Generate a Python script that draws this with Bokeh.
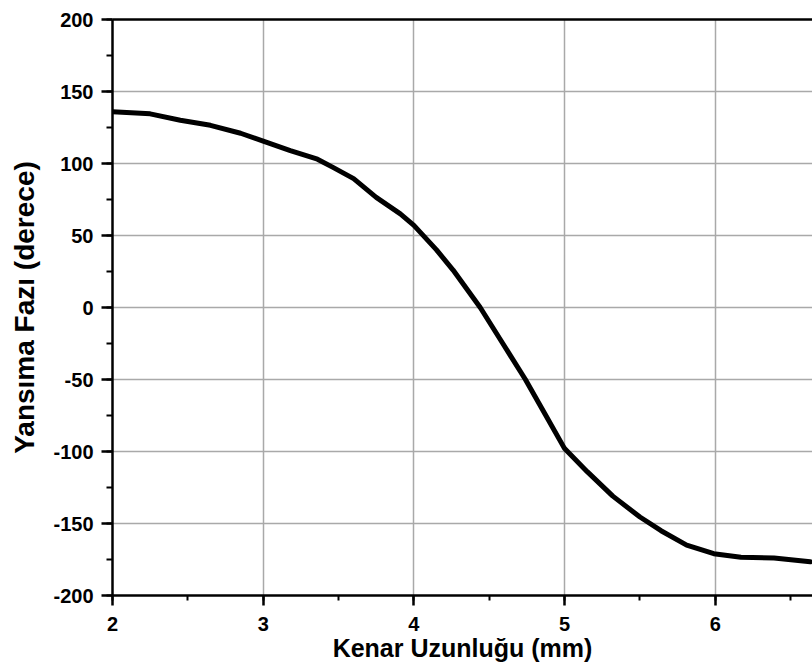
from bokeh.plotting import figure
from bokeh.models import Range1d, SingleIntervalTicker, LinearAxis, FixedTicker, PrintfTickFormatter
from bokeh.embed import file_html
from bokeh.resources import INLINE

# Data
edge_length_mm = [2.0, 2.25, 2.45, 2.65, 2.85, 3.0, 3.18, 3.36, 3.46, 3.60, 3.75, 3.91,
                  4.0, 4.15, 4.26, 4.44, 4.59, 4.74, 4.87, 5.0, 5.15, 5.32, 5.50,
                  5.64, 5.81, 5.99, 6.17, 6.39, 6.63]
reflection_phase_deg = [136, 134.5, 130, 126.5, 121, 115.5, 109, 103, 97.5, 89.5, 76.5, 65,
                        57, 40, 26, 0, -25, -50, -74, -98, -114, -131, -145.5,
                        -155, -165, -171, -173.5, -174, -176.5]

x_label = "Kenar Uzunluğu (mm)"
y_label = "Yansıma Fazı (derece)"

FONT = "Liberation Sans"

p = figure(width=812, height=671, output_backend="svg", toolbar_location=None,
           x_range=Range1d(2, 6.645), y_range=Range1d(-200, 200),
           min_border_left=112, min_border_right=0, min_border_top=19, min_border_bottom=76)
p.outline_line_color = None
p.background_fill_color = "white"
p.border_fill_color = "white"

p.line(edge_length_mm, reflection_phase_deg, line_color="black", line_width=5,
       line_join="round", line_cap="round")

p.xaxis.ticker = SingleIntervalTicker(interval=1, num_minor_ticks=2)
p.yaxis.ticker = SingleIntervalTicker(interval=50, num_minor_ticks=2)
p.xaxis.formatter = PrintfTickFormatter(format="%d")
p.yaxis.formatter = PrintfTickFormatter(format="%d")

for ax in (p.xaxis[0], p.yaxis[0]):
    ax.axis_line_color = "black"
    ax.axis_line_width = 2.5
    ax.major_tick_line_color = "black"
    ax.major_tick_line_width = 2.5
    ax.minor_tick_line_color = "black"
    ax.minor_tick_line_width = 2
    ax.major_tick_in = 0
    ax.minor_tick_in = 0
    ax.major_label_text_font = FONT
    ax.major_label_text_font_style = "bold"
    ax.major_label_text_font_size = "20px"
    ax.major_label_text_color = "black"
    ax.axis_label_text_font = FONT
    ax.axis_label_text_font_style = "bold"
    ax.axis_label_text_color = "black"

p.xaxis.axis_label = x_label
p.yaxis.axis_label = y_label
p.xaxis.axis_label_text_font_size = "25px"
p.yaxis.axis_label_text_font_size = "28px"
p.xaxis.major_tick_out = 10
p.xaxis.minor_tick_out = 5
p.yaxis.major_tick_out = 11
p.yaxis.minor_tick_out = 6
p.xaxis.major_label_standoff = 11
p.yaxis.major_label_standoff = 8
p.xaxis.axis_label_standoff = 0
p.yaxis.axis_label_standoff = 10

# top border line
top = LinearAxis(ticker=FixedTicker(ticks=[]), axis_line_color="black", axis_line_width=2.5,
                 major_tick_out=0, minor_tick_out=0, major_label_standoff=0,
                 major_label_text_font_size="0px")
p.add_layout(top, "above")

p.grid.grid_line_color = "#a9a9a9"
p.grid.grid_line_width = 1.5

open("out.html", "w").write(file_html(p, INLINE))
